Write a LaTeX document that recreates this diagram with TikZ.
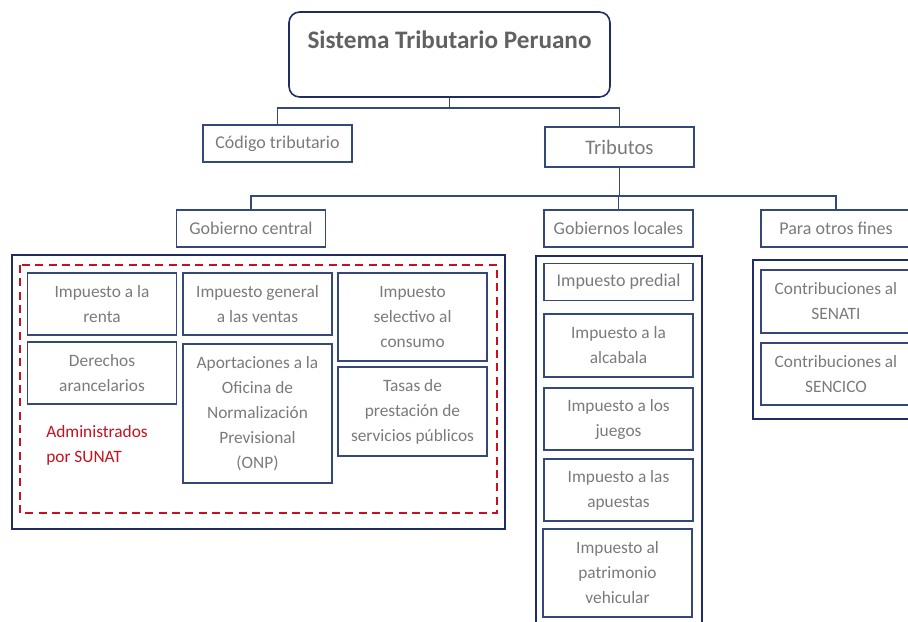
\documentclass[tikz,border=0pt]{standalone}
\usepackage{fontspec}
\setmainfont{Carlito}
\usetikzlibrary{positioning}
\definecolor{navy}{HTML}{34497A}
\definecolor{navydark}{HTML}{1F2D62}
\definecolor{sunatred}{HTML}{C8101E}
\definecolor{txtgray}{HTML}{7A7A7A}
\colorlet{titlegray}{black!62}
\tikzstyle{tax box} = [%
	rectangle,
	draw=navy,
	line width=1.2pt,
	align=center,
	text=txtgray,
	font=\fontsize{13}{18.75}\selectfont,
	inner sep=2pt,
	minimum width=111.5pt,
	minimum height=46.5pt
]
\tikzstyle{level box} = [%
	tax box,
	font=\fontsize{13.5}{18.75}\selectfont,
	minimum height=27.75pt
]
\tikzstyle{group frame} = [draw=navydark, line width=2.2pt]
\tikzstyle{sunat frame} = [draw=sunatred, line width=1.6pt, dash pattern=on 6pt off 4pt]
\tikzstyle{branch} = [draw=navy, line width=1.4pt]

\begin{document}
\begin{tikzpicture}[x=0.75pt,y=-0.75pt]

\useasboundingbox (0,0) rectangle (908,622);

% top of the tree
\node[tax box, draw=navydark, rounded corners=8pt, minimum width=240.75pt, minimum height=63.75pt,
	text=titlegray, font=\fontsize{18.9}{22}\selectfont\bfseries,
	text height=13.5pt, text depth=22pt] (sistema) at (449.5,54.5) {Sistema Tributario Peruano};
\node[level box] (codigo) at (277.5,143.5) {Código tributario};
\node[level box, minimum height=30pt, font=\fontsize{15.5}{18.75}\selectfont] (tributos) at (619.5,147) {Tributos};
\draw[branch] (sistema.south) -- ++(0,10) -| (codigo.north);
\draw[branch] (sistema.south) -- ++(0,10) -| (tributos.north);

% second level
\node[level box] (central) at (251,228.5) {Gobierno central};
\node[level box] (locales) at (618.5,228.5) {Gobiernos locales};
\node[level box, minimum width=112.5pt] (otros) at (836,228.5) {Para otros fines};
\draw[branch] (tributos.south) -- ++(0,28) -| (central.north);
\draw[branch] (tributos.south) -- ++(0,28) -| (locales.north);
\draw[branch] (tributos.south) -- ++(0,28) -| (otros.north);

% gobierno central
\draw[group frame] (12,255) rectangle (505,529);
\draw[sunat frame] (20,265) rectangle (497,513);
\node[tax box] (renta) at (102,304) {Impuesto a la\\renta};
\node[tax box] (igv) at (257.5,304) {Impuesto general\\a las ventas};
\node[tax box, minimum height=66pt] (isc) at (412.5,317) {Impuesto\\selectivo al\\consumo};
\node[tax box] (derechos) at (102,373) {Derechos\\arancelarios};
\node[tax box, minimum height=104.25pt] (onp) at (257.5,413.5) {Aportaciones a la\\Oficina de\\Normalización\\Previsional\\(ONP)};
\node[tax box, minimum height=66.75pt] (tasas) at (412.5,411.5) {Tasas de\\prestación de\\servicios públicos};
\node[anchor=west, align=left, inner sep=0pt, text=sunatred,
	font=\fontsize{13}{18.75}\selectfont] (sunat) at (46,445.5) {Administrados\\por SUNAT};

% gobiernos locales
\draw[group frame] (536,256) rectangle (702,640);
\node[level box] (predial) at (618.5,282) {Impuesto predial};
\node[tax box, minimum height=47.25pt] (alcabala) at (618.5,345.5) {Impuesto a la\\alcabala};
\node[tax box] (juegos) at (618.5,419) {Impuesto a los\\juegos};
\node[tax box] (apuestas) at (618.5,490) {Impuesto a las\\apuestas};
\node[tax box, minimum height=66pt] (vehicular) at (617.5,573) {Impuesto al\\patrimonio\\vehicular};

% otros fines
\draw[group frame] (753,260) rectangle (920,419);
\node[tax box, minimum width=112.5pt, minimum height=47.25pt] (senati) at (836,301.5) {Contribuciones al\\SENATI};
\node[tax box, minimum width=112.5pt] (sencico) at (836,374) {Contribuciones al\\SENCICO};

\end{tikzpicture}
\end{document}
